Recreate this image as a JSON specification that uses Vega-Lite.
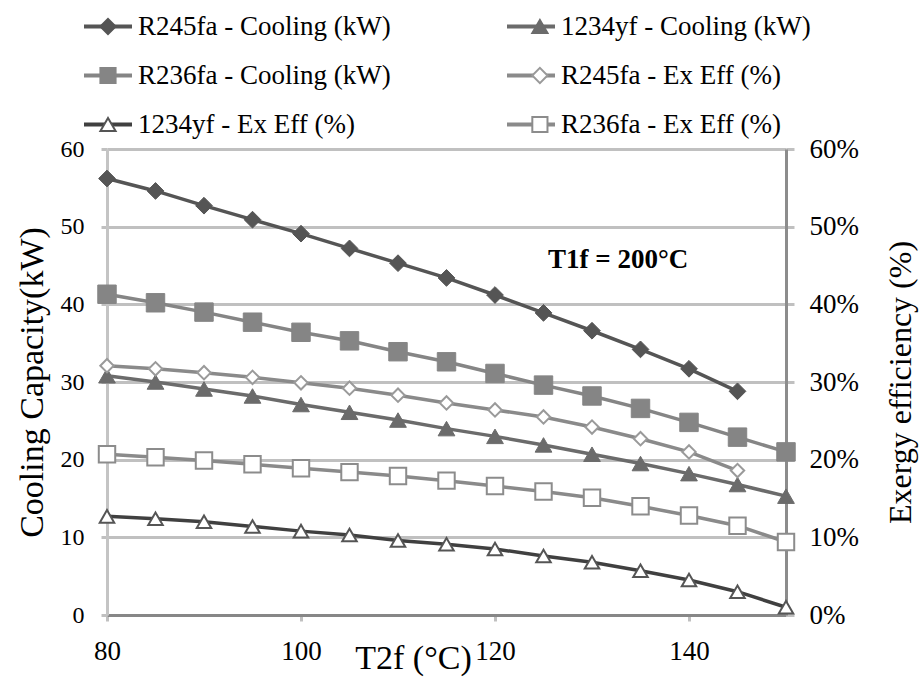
{
  "$schema": "https://vega.github.io/schema/vega-lite/v6.json",
  "width": 679,
  "height": 466,
  "autosize": {"type": "none"},
  "padding": {"left": 107, "top": 149, "right": 133, "bottom": 62},
  "background": "white",
  "config": {
    "font": "Liberation Serif",
    "view": {"stroke": null},
    "axis": {"labelColor": "black", "titleColor": "black", "titleFontWeight": "normal", "labelFont": "Liberation Serif", "titleFont": "Liberation Serif"}
  },
  "datasets": {
    "cooling": [
      {"T2f": 80, "series": "R245fa - Cooling (kW)", "value": 56.2},
      {"T2f": 85, "series": "R245fa - Cooling (kW)", "value": 54.6},
      {"T2f": 90, "series": "R245fa - Cooling (kW)", "value": 52.7},
      {"T2f": 95, "series": "R245fa - Cooling (kW)", "value": 50.9},
      {"T2f": 100, "series": "R245fa - Cooling (kW)", "value": 49.1},
      {"T2f": 105, "series": "R245fa - Cooling (kW)", "value": 47.2},
      {"T2f": 110, "series": "R245fa - Cooling (kW)", "value": 45.3},
      {"T2f": 115, "series": "R245fa - Cooling (kW)", "value": 43.4},
      {"T2f": 120, "series": "R245fa - Cooling (kW)", "value": 41.2},
      {"T2f": 125, "series": "R245fa - Cooling (kW)", "value": 38.9},
      {"T2f": 130, "series": "R245fa - Cooling (kW)", "value": 36.6},
      {"T2f": 135, "series": "R245fa - Cooling (kW)", "value": 34.2},
      {"T2f": 140, "series": "R245fa - Cooling (kW)", "value": 31.7},
      {"T2f": 145, "series": "R245fa - Cooling (kW)", "value": 28.8},
      {"T2f": 80, "series": "1234yf - Cooling (kW)", "value": 30.8},
      {"T2f": 85, "series": "1234yf - Cooling (kW)", "value": 30.0},
      {"T2f": 90, "series": "1234yf - Cooling (kW)", "value": 29.1},
      {"T2f": 95, "series": "1234yf - Cooling (kW)", "value": 28.2},
      {"T2f": 100, "series": "1234yf - Cooling (kW)", "value": 27.1},
      {"T2f": 105, "series": "1234yf - Cooling (kW)", "value": 26.1},
      {"T2f": 110, "series": "1234yf - Cooling (kW)", "value": 25.1},
      {"T2f": 115, "series": "1234yf - Cooling (kW)", "value": 24.0},
      {"T2f": 120, "series": "1234yf - Cooling (kW)", "value": 23.0},
      {"T2f": 125, "series": "1234yf - Cooling (kW)", "value": 21.9},
      {"T2f": 130, "series": "1234yf - Cooling (kW)", "value": 20.7},
      {"T2f": 135, "series": "1234yf - Cooling (kW)", "value": 19.5},
      {"T2f": 140, "series": "1234yf - Cooling (kW)", "value": 18.2},
      {"T2f": 145, "series": "1234yf - Cooling (kW)", "value": 16.8},
      {"T2f": 150, "series": "1234yf - Cooling (kW)", "value": 15.3},
      {"T2f": 80, "series": "R236fa - Cooling (kW)", "value": 41.3},
      {"T2f": 85, "series": "R236fa - Cooling (kW)", "value": 40.2},
      {"T2f": 90, "series": "R236fa - Cooling (kW)", "value": 39.0},
      {"T2f": 95, "series": "R236fa - Cooling (kW)", "value": 37.7},
      {"T2f": 100, "series": "R236fa - Cooling (kW)", "value": 36.4},
      {"T2f": 105, "series": "R236fa - Cooling (kW)", "value": 35.3},
      {"T2f": 110, "series": "R236fa - Cooling (kW)", "value": 33.9},
      {"T2f": 115, "series": "R236fa - Cooling (kW)", "value": 32.6},
      {"T2f": 120, "series": "R236fa - Cooling (kW)", "value": 31.1},
      {"T2f": 125, "series": "R236fa - Cooling (kW)", "value": 29.6},
      {"T2f": 130, "series": "R236fa - Cooling (kW)", "value": 28.2},
      {"T2f": 135, "series": "R236fa - Cooling (kW)", "value": 26.6},
      {"T2f": 140, "series": "R236fa - Cooling (kW)", "value": 24.8},
      {"T2f": 145, "series": "R236fa - Cooling (kW)", "value": 22.9},
      {"T2f": 150, "series": "R236fa - Cooling (kW)", "value": 21.0}
    ],
    "exergy": [
      {"T2f": 80, "series": "R245fa - Ex Eff (%)", "value": 0.321},
      {"T2f": 85, "series": "R245fa - Ex Eff (%)", "value": 0.317},
      {"T2f": 90, "series": "R245fa - Ex Eff (%)", "value": 0.312},
      {"T2f": 95, "series": "R245fa - Ex Eff (%)", "value": 0.306},
      {"T2f": 100, "series": "R245fa - Ex Eff (%)", "value": 0.299},
      {"T2f": 105, "series": "R245fa - Ex Eff (%)", "value": 0.292},
      {"T2f": 110, "series": "R245fa - Ex Eff (%)", "value": 0.283},
      {"T2f": 115, "series": "R245fa - Ex Eff (%)", "value": 0.273},
      {"T2f": 120, "series": "R245fa - Ex Eff (%)", "value": 0.264},
      {"T2f": 125, "series": "R245fa - Ex Eff (%)", "value": 0.255},
      {"T2f": 130, "series": "R245fa - Ex Eff (%)", "value": 0.242},
      {"T2f": 135, "series": "R245fa - Ex Eff (%)", "value": 0.227},
      {"T2f": 140, "series": "R245fa - Ex Eff (%)", "value": 0.210},
      {"T2f": 145, "series": "R245fa - Ex Eff (%)", "value": 0.186},
      {"T2f": 80, "series": "1234yf - Ex Eff (%)", "value": 0.127},
      {"T2f": 85, "series": "1234yf - Ex Eff (%)", "value": 0.124},
      {"T2f": 90, "series": "1234yf - Ex Eff (%)", "value": 0.120},
      {"T2f": 95, "series": "1234yf - Ex Eff (%)", "value": 0.114},
      {"T2f": 100, "series": "1234yf - Ex Eff (%)", "value": 0.108},
      {"T2f": 105, "series": "1234yf - Ex Eff (%)", "value": 0.103},
      {"T2f": 110, "series": "1234yf - Ex Eff (%)", "value": 0.096},
      {"T2f": 115, "series": "1234yf - Ex Eff (%)", "value": 0.091},
      {"T2f": 120, "series": "1234yf - Ex Eff (%)", "value": 0.085},
      {"T2f": 125, "series": "1234yf - Ex Eff (%)", "value": 0.076},
      {"T2f": 130, "series": "1234yf - Ex Eff (%)", "value": 0.068},
      {"T2f": 135, "series": "1234yf - Ex Eff (%)", "value": 0.057},
      {"T2f": 140, "series": "1234yf - Ex Eff (%)", "value": 0.045},
      {"T2f": 145, "series": "1234yf - Ex Eff (%)", "value": 0.030},
      {"T2f": 150, "series": "1234yf - Ex Eff (%)", "value": 0.010},
      {"T2f": 80, "series": "R236fa - Ex Eff (%)", "value": 0.207},
      {"T2f": 85, "series": "R236fa - Ex Eff (%)", "value": 0.203},
      {"T2f": 90, "series": "R236fa - Ex Eff (%)", "value": 0.199},
      {"T2f": 95, "series": "R236fa - Ex Eff (%)", "value": 0.194},
      {"T2f": 100, "series": "R236fa - Ex Eff (%)", "value": 0.189},
      {"T2f": 105, "series": "R236fa - Ex Eff (%)", "value": 0.184},
      {"T2f": 110, "series": "R236fa - Ex Eff (%)", "value": 0.179},
      {"T2f": 115, "series": "R236fa - Ex Eff (%)", "value": 0.173},
      {"T2f": 120, "series": "R236fa - Ex Eff (%)", "value": 0.166},
      {"T2f": 125, "series": "R236fa - Ex Eff (%)", "value": 0.159},
      {"T2f": 130, "series": "R236fa - Ex Eff (%)", "value": 0.151},
      {"T2f": 135, "series": "R236fa - Ex Eff (%)", "value": 0.140},
      {"T2f": 140, "series": "R236fa - Ex Eff (%)", "value": 0.128},
      {"T2f": 145, "series": "R236fa - Ex Eff (%)", "value": 0.115},
      {"T2f": 150, "series": "R236fa - Ex Eff (%)", "value": 0.094}
    ]
  },
  "encoding": {
    "x": {
      "field": "T2f", "type": "quantitative",
      "scale": {"domain": [80, 150], "nice": false, "zero": false},
      "axis": {
        "values": [80, 100, 120, 140], "grid": false,
        "title": "T2f (°C)", "titleFontSize": 34, "titleX": 306, "titleY": 53, "titleBaseline": "alphabetic", "titleAlign": "center", "titleFont": "Liberation Serif",
        "labelFontSize": 27, "labelPadding": 17, "labelFlush": false, "labelFont": "Liberation Serif",
        "tickSize": 6, "tickColor": "#c0c0c0", "tickWidth": 3,
        "domainColor": "#878787", "domainWidth": 3
      }
    }
  },
  "layer": [
    {
      "data": {"name": "cooling"},
      "encoding": {
        "y": {
          "field": "value", "type": "quantitative",
          "scale": {"domain": [0, 60], "nice": false},
          "axis": {
            "orient": "left", "values": [0, 10, 20, 30, 40, 50, 60],
            "grid": true, "gridColor": "#c0c0c0", "gridWidth": 3,
            "domainColor": "#c4c4c4", "domainWidth": 3,
            "tickSize": 6, "tickColor": "#c0c0c0", "tickWidth": 3,
            "labelFontSize": 24, "labelPadding": 17,
            "title": "Cooling Capacity(kW)", "titleFontSize": 34, "titleAngle": -90,
            "titleX": -75, "titleY": 233, "titleAlign": "center", "titleBaseline": "middle"
          }
        }
      },
      "layer": [
        {
          "mark": {"type": "line", "strokeWidth": 3.5},
          "encoding": {
            "color": {
              "field": "series", "type": "nominal",
              "scale": {
                "domain": ["R245fa - Cooling (kW)", "R236fa - Cooling (kW)", "1234yf - Ex Eff (%)", "1234yf - Cooling (kW)", "R245fa - Ex Eff (%)", "R236fa - Ex Eff (%)"],
                "range": ["#555555", "#858585", "#404040", "#6b6b6b", "#8a8a8a", "#8a8a8a"]
              },
              "legend": {
                "title": null, "orient": "none", "legendX": -25, "legendY": -136,
                "columns": 2, "columnPadding": 114, "rowPadding": 21, "clipHeight": 27,
                "symbolType": "stroke", "symbolSize": 2304, "symbolStrokeWidth": 4,
                "labelFontSize": 27, "labelFont": "Liberation Serif", "labelColor": "black",
                "labelOffset": 4, "labelLimit": 0, "padding": 0
              }
            }
          }
        },
        {
          "transform": [{"filter": "datum.series === 'R245fa - Cooling (kW)'"}],
          "mark": {"type": "point", "shape": "diamond", "filled": true, "fill": "#555555", "stroke": "#555555", "strokeWidth": 1, "size": 280, "opacity": 1}
        },
        {
          "transform": [{"filter": "datum.series === '1234yf - Cooling (kW)'"}],
          "mark": {"type": "point", "shape": "triangle-up", "filled": true, "fill": "#6b6b6b", "stroke": "#6b6b6b", "strokeWidth": 1, "size": 280, "opacity": 1}
        },
        {
          "transform": [{"filter": "datum.series === 'R236fa - Cooling (kW)'"}],
          "mark": {"type": "point", "shape": "square", "filled": true, "fill": "#858585", "stroke": "#858585", "strokeWidth": 1, "size": 340, "opacity": 1}
        },
        {
          "transform": [{"filter": "datum.T2f === 80 && datum.series === 'R245fa - Cooling (kW)'"}],
          "mark": {"type": "text", "fontSize": 27, "fontWeight": "bold", "font": "Liberation Serif", "align": "center", "baseline": "middle", "color": "black"},
          "encoding": {
            "x": {"datum": 132.7},
            "y": {"datum": 45.7},
            "text": {"value": "T1f = 200°C"}
          }
        },
        {
          "transform": [{"filter": "false"}],
          "mark": {"type": "point", "size": 0, "filled": true, "strokeWidth": 2, "opacity": 1},
          "encoding": {
            "shape": {
              "field": "series", "type": "nominal",
              "scale": {
                "domain": ["R245fa\u00a0-\u00a0Cooling\u00a0(kW)", "R236fa\u00a0-\u00a0Cooling\u00a0(kW)", "1234yf\u00a0-\u00a0Ex\u00a0Eff\u00a0(%)", "1234yf\u00a0-\u00a0Cooling\u00a0(kW)", "R245fa\u00a0-\u00a0Ex\u00a0Eff\u00a0(%)", "R236fa\u00a0-\u00a0Ex\u00a0Eff\u00a0(%)"],
                "range": ["diamond", "square", "triangle-up", "triangle-up", "diamond", "square"]
              },
              "legend": {
                "title": null, "orient": "none", "legendX": -32.5, "legendY": -136,
                "columns": 2, "columnPadding": 380.9, "rowPadding": 21, "clipHeight": 27,
                "symbolSize": 230, "symbolStrokeWidth": 2, "symbolOffset": 20,
                "labelFontSize": 27, "labelFont": "Liberation Serif", "labelExpr": "''",
                "labelOffset": 4, "labelLimit": 0, "padding": 0
              }
            },
            "fill": {
              "field": "series", "type": "nominal",
              "scale": {
                "domain": ["R245fa\u00a0-\u00a0Cooling\u00a0(kW)", "R236fa\u00a0-\u00a0Cooling\u00a0(kW)", "1234yf\u00a0-\u00a0Ex\u00a0Eff\u00a0(%)", "1234yf\u00a0-\u00a0Cooling\u00a0(kW)", "R245fa\u00a0-\u00a0Ex\u00a0Eff\u00a0(%)", "R236fa\u00a0-\u00a0Ex\u00a0Eff\u00a0(%)"],
                "range": ["#555555", "#858585", "white", "#6b6b6b", "white", "white"]
              }
            },
            "stroke": {
              "field": "series", "type": "nominal",
              "scale": {
                "domain": ["R245fa\u00a0-\u00a0Cooling\u00a0(kW)", "R236fa\u00a0-\u00a0Cooling\u00a0(kW)", "1234yf\u00a0-\u00a0Ex\u00a0Eff\u00a0(%)", "1234yf\u00a0-\u00a0Cooling\u00a0(kW)", "R245fa\u00a0-\u00a0Ex\u00a0Eff\u00a0(%)", "R236fa\u00a0-\u00a0Ex\u00a0Eff\u00a0(%)"],
                "range": ["#555555", "#858585", "#555555", "#6b6b6b", "#9a9a9a", "#8c8c8c"]
              }
            }
          }
        }
      ]
    },
    {
      "data": {"name": "exergy"},
      "encoding": {
        "y": {
          "field": "value", "type": "quantitative",
          "scale": {"domain": [0, 0.6], "nice": false},
          "axis": {
            "orient": "right", "values": [0, 0.1, 0.2, 0.3, 0.4, 0.5, 0.6], "format": ".0%",
            "grid": false, "domainColor": "#8c8c8c", "domainWidth": 3,
            "tickSize": 8, "tickColor": "#c0c0c0", "tickWidth": 3,
            "labelFontSize": 27, "labelPadding": 15,
            "title": "Exergy efficiency (%)", "titleFontSize": 32, "titleAngle": -90,
            "titleX": 114, "titleY": 233, "titleAlign": "center", "titleBaseline": "middle"
          }
        }
      },
      "layer": [
        {
          "mark": {"type": "line", "strokeWidth": 3.5},
          "encoding": {
            "color": {
              "field": "series", "type": "nominal",
              "legend": {
                "title": null, "orient": "none", "legendX": -25, "legendY": -136,
                "columns": 2, "columnPadding": 114, "rowPadding": 21, "clipHeight": 27,
                "symbolType": "stroke", "symbolSize": 2304, "symbolStrokeWidth": 4,
                "labelFontSize": 27, "labelFont": "Liberation Serif", "labelColor": "black",
                "labelOffset": 4, "labelLimit": 0, "padding": 0
              }
            }
          }
        },
        {
          "transform": [{"filter": "datum.series === 'R245fa - Ex Eff (%)'"}],
          "mark": {"type": "point", "shape": "diamond", "filled": true, "fill": "white", "stroke": "#9a9a9a", "strokeWidth": 2, "size": 180, "opacity": 1}
        },
        {
          "transform": [{"filter": "datum.series === '1234yf - Ex Eff (%)'"}],
          "mark": {"type": "point", "shape": "triangle-up", "filled": true, "fill": "white", "stroke": "#555555", "strokeWidth": 2, "size": 210, "opacity": 1}
        },
        {
          "transform": [{"filter": "datum.series === 'R236fa - Ex Eff (%)'"}],
          "mark": {"type": "point", "shape": "square", "filled": true, "fill": "white", "stroke": "#8c8c8c", "strokeWidth": 2, "size": 270, "opacity": 1}
        }
      ]
    }
  ],
  "resolve": {"scale": {"y": "independent"}}
}
